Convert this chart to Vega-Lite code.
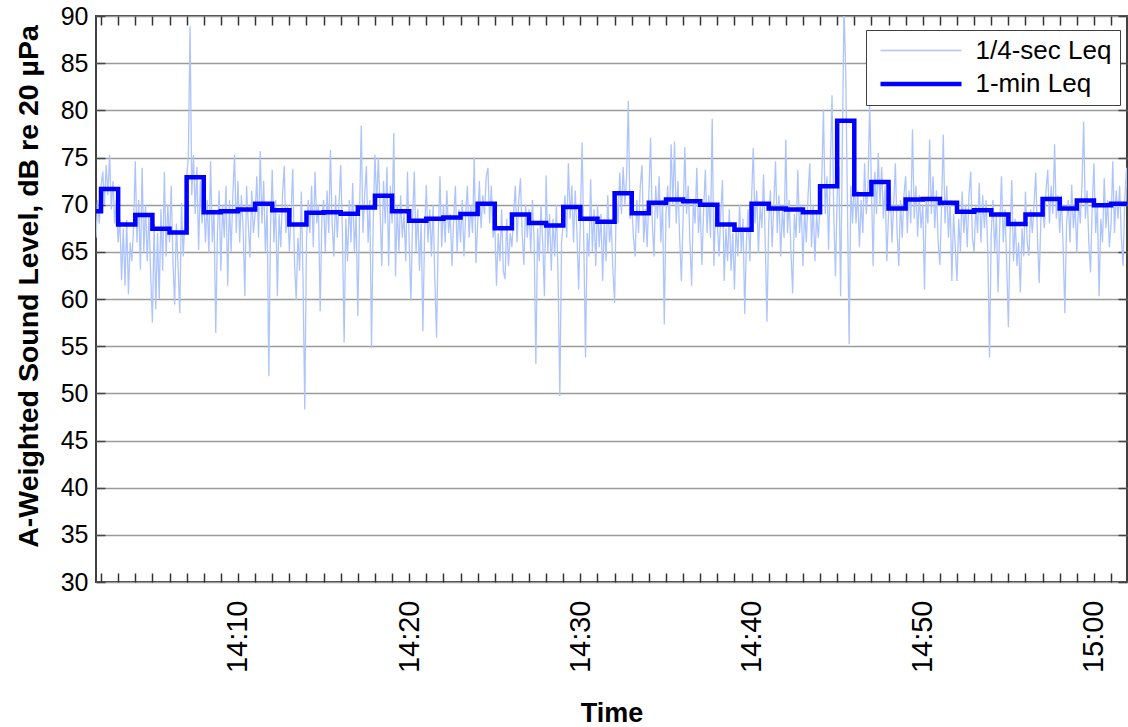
{
"$schema": "https://vega.github.io/schema/vega-lite/v6.json",
"width": 1031, "height": 566,
"autosize": {"type": "none"},
"padding": {"left": 96, "top": 16, "right": 1, "bottom": 145},
"background": "white",
"config": {
  "font": "Liberation Sans",
  "view": {"stroke": "#404040", "strokeWidth": 2},
  "axis": {"labelFont": "Liberation Sans", "titleFont": "Liberation Sans", "labelColor": "black", "titleColor": "black", "domain": false}
},
"datasets": {
"minute": [
{"min":1.706,"dB":69.3},{"min":2,"dB":71.65},{"min":3,"dB":67.9},{"min":4,"dB":68.9},{"min":5,"dB":67.45},{"min":6,"dB":67.05},{"min":7,"dB":72.9},{"min":8,"dB":69.2},{"min":9,"dB":69.3},{"min":10,"dB":69.5},
{"min":11,"dB":70.1},{"min":12,"dB":69.4},{"min":13,"dB":67.9},{"min":14,"dB":69.15},{"min":15,"dB":69.2},{"min":16,"dB":69.05},{"min":17,"dB":69.7},{"min":18,"dB":70.95},{"min":19,"dB":69.3},{"min":20,"dB":68.3},
{"min":21,"dB":68.5},{"min":22,"dB":68.65},{"min":23,"dB":69.0},{"min":24,"dB":70.1},{"min":25,"dB":67.5},{"min":26,"dB":68.95},{"min":27,"dB":68.05},{"min":28,"dB":67.8},{"min":29,"dB":69.75},{"min":30,"dB":68.5},
{"min":31,"dB":68.2},{"min":32,"dB":71.2},{"min":33,"dB":69.1},{"min":34,"dB":70.2},{"min":35,"dB":70.55},{"min":36,"dB":70.35},{"min":37,"dB":70.0},{"min":38,"dB":67.9},{"min":39,"dB":67.35},{"min":40,"dB":70.1},
{"min":41,"dB":69.6},{"min":42,"dB":69.5},{"min":43,"dB":69.2},{"min":44,"dB":71.95},{"min":45,"dB":78.9},{"min":46,"dB":71.1},{"min":47,"dB":72.4},{"min":48,"dB":69.6},{"min":49,"dB":70.55},{"min":50,"dB":70.6},
{"min":51,"dB":70.2},{"min":52,"dB":69.25},{"min":53,"dB":69.4},{"min":54,"dB":68.95},{"min":55,"dB":67.95},{"min":56,"dB":68.95},{"min":57,"dB":70.6},{"min":58,"dB":69.6},{"min":59,"dB":70.45},{"min":60,"dB":69.95},
{"min":61,"dB":70.1},{"min":61.93,"dB":70.1}
],
"quarter": [
{"min":1.71,"dB":66.5},{"min":1.8,"dB":70.5},{"min":1.9,"dB":68.0},
{"min":2.0,"dB":72.0},{"min":2.1,"dB":73.5},{"min":2.2,"dB":70.0},{"min":2.3,"dB":74.2},{"min":2.4,"dB":71.0},{"min":2.5,"dB":75.3},{"min":2.6,"dB":69.5},{"min":2.7,"dB":72.5},{"min":2.8,"dB":68.0},{"min":2.9,"dB":70.5},
{"min":3.0,"dB":66.0},{"min":3.1,"dB":68.5},{"min":3.2,"dB":62.0},{"min":3.3,"dB":67.5},{"min":3.4,"dB":61.4},{"min":3.5,"dB":68.4},{"min":3.6,"dB":60.5},{"min":3.7,"dB":66.0},{"min":3.8,"dB":64.0},{"min":3.9,"dB":67.5},
{"min":4.0,"dB":74.6},{"min":4.1,"dB":66.0},{"min":4.2,"dB":70.5},{"min":4.3,"dB":63.1},{"min":4.4,"dB":73.9},{"min":4.5,"dB":65.0},{"min":4.6,"dB":70.0},{"min":4.7,"dB":64.0},{"min":4.8,"dB":69.0},{"min":4.9,"dB":62.5},
{"min":5.0,"dB":57.5},{"min":5.1,"dB":68.0},{"min":5.2,"dB":58.9},{"min":5.3,"dB":67.0},{"min":5.4,"dB":60.0},{"min":5.5,"dB":69.5},{"min":5.6,"dB":63.0},{"min":5.7,"dB":73.5},{"min":5.8,"dB":64.5},{"min":5.9,"dB":70.0},
{"min":6.0,"dB":66.0},{"min":6.1,"dB":72.0},{"min":6.2,"dB":64.0},{"min":6.3,"dB":59.4},{"min":6.4,"dB":68.0},{"min":6.5,"dB":63.5},{"min":6.6,"dB":58.5},{"min":6.7,"dB":70.2},{"min":6.8,"dB":64.5},{"min":6.9,"dB":68.5},
{"min":7.0,"dB":73.0},{"min":7.1,"dB":75.0},{"min":7.2,"dB":88.9},{"min":7.3,"dB":71.0},{"min":7.4,"dB":75.3},{"min":7.5,"dB":69.0},{"min":7.6,"dB":74.0},{"min":7.7,"dB":65.2},{"min":7.8,"dB":72.5},{"min":7.9,"dB":68.0},
{"min":8.0,"dB":71.0},{"min":8.1,"dB":66.0},{"min":8.2,"dB":70.5},{"min":8.3,"dB":64.8},{"min":8.4,"dB":74.6},{"min":8.5,"dB":66.0},{"min":8.6,"dB":69.5},{"min":8.7,"dB":56.4},{"min":8.8,"dB":67.0},{"min":8.9,"dB":71.5},
{"min":9.0,"dB":63.0},{"min":9.1,"dB":70.0},{"min":9.2,"dB":66.5},{"min":9.3,"dB":72.0},{"min":9.4,"dB":61.4},{"min":9.5,"dB":70.5},{"min":9.6,"dB":65.0},{"min":9.7,"dB":71.0},{"min":9.8,"dB":75.3},{"min":9.9,"dB":67.0},
{"min":10.0,"dB":72.5},{"min":10.1,"dB":66.0},{"min":10.2,"dB":71.0},{"min":10.3,"dB":67.5},{"min":10.4,"dB":60.3},{"min":10.5,"dB":72.0},{"min":10.6,"dB":68.0},{"min":10.7,"dB":64.4},{"min":10.8,"dB":71.5},{"min":10.9,"dB":67.0},
{"min":11.0,"dB":69.0},{"min":11.1,"dB":73.0},{"min":11.2,"dB":66.5},{"min":11.3,"dB":75.7},{"min":11.4,"dB":68.0},{"min":11.5,"dB":72.5},{"min":11.6,"dB":65.0},{"min":11.7,"dB":70.0},{"min":11.8,"dB":51.8},{"min":11.9,"dB":67.5},
{"min":12.0,"dB":73.7},{"min":12.1,"dB":66.0},{"min":12.2,"dB":70.5},{"min":12.3,"dB":60.3},{"min":12.4,"dB":69.0},{"min":12.5,"dB":65.5},{"min":12.6,"dB":71.0},{"min":12.7,"dB":74.1},{"min":12.8,"dB":67.0},{"min":12.9,"dB":70.0},
{"min":13.0,"dB":65.0},{"min":13.1,"dB":69.0},{"min":13.2,"dB":73.8},{"min":13.3,"dB":64.0},{"min":13.4,"dB":59.9},{"min":13.5,"dB":66.5},{"min":13.6,"dB":63.0},{"min":13.7,"dB":71.4},{"min":13.8,"dB":62.0},{"min":13.9,"dB":48.3},
{"min":14.0,"dB":66.0},{"min":14.1,"dB":70.5},{"min":14.2,"dB":67.0},{"min":14.3,"dB":72.0},{"min":14.4,"dB":65.5},{"min":14.5,"dB":73.5},{"min":14.6,"dB":68.0},{"min":14.7,"dB":70.0},{"min":14.8,"dB":58.7},{"min":14.9,"dB":68.5},
{"min":15.0,"dB":70.5},{"min":15.1,"dB":65.0},{"min":15.2,"dB":71.5},{"min":15.3,"dB":67.0},{"min":15.4,"dB":75.8},{"min":15.5,"dB":68.0},{"min":15.6,"dB":64.5},{"min":15.7,"dB":71.0},{"min":15.8,"dB":66.5},{"min":15.9,"dB":70.0},
{"min":16.0,"dB":74.2},{"min":16.1,"dB":67.0},{"min":16.2,"dB":55.4},{"min":16.3,"dB":68.5},{"min":16.4,"dB":64.0},{"min":16.5,"dB":70.5},{"min":16.6,"dB":66.0},{"min":16.7,"dB":72.3},{"min":16.8,"dB":65.0},{"min":16.9,"dB":69.0},
{"min":17.0,"dB":58.2},{"min":17.1,"dB":69.0},{"min":17.2,"dB":78.4},{"min":17.3,"dB":67.0},{"min":17.4,"dB":71.0},{"min":17.5,"dB":74.1},{"min":17.6,"dB":66.0},{"min":17.7,"dB":70.5},{"min":17.8,"dB":54.8},{"min":17.9,"dB":68.0},
{"min":18.0,"dB":75.3},{"min":18.1,"dB":70.0},{"min":18.2,"dB":75.0},{"min":18.3,"dB":69.5},{"min":18.4,"dB":63.5},{"min":18.5,"dB":72.5},{"min":18.6,"dB":68.0},{"min":18.7,"dB":74.0},{"min":18.8,"dB":63.5},{"min":18.9,"dB":72.0},
{"min":19.0,"dB":68.0},{"min":19.1,"dB":77.6},{"min":19.2,"dB":62.4},{"min":19.3,"dB":70.0},{"min":19.4,"dB":65.0},{"min":19.5,"dB":71.0},{"min":19.6,"dB":66.5},{"min":19.7,"dB":69.0},{"min":19.8,"dB":64.0},{"min":19.9,"dB":73.5},
{"min":20.0,"dB":66.0},{"min":20.1,"dB":59.8},{"min":20.2,"dB":68.5},{"min":20.3,"dB":73.5},{"min":20.4,"dB":65.0},{"min":20.5,"dB":69.5},{"min":20.6,"dB":63.0},{"min":20.7,"dB":68.0},{"min":20.8,"dB":56.6},{"min":20.9,"dB":67.0},
{"min":21.0,"dB":72.1},{"min":21.1,"dB":66.0},{"min":21.2,"dB":69.5},{"min":21.3,"dB":64.5},{"min":21.4,"dB":70.0},{"min":21.5,"dB":62.0},{"min":21.6,"dB":55.9},{"min":21.7,"dB":67.0},{"min":21.8,"dB":73.0},{"min":21.9,"dB":65.5},
{"min":22.0,"dB":70.0},{"min":22.1,"dB":66.0},{"min":22.2,"dB":71.5},{"min":22.3,"dB":67.0},{"min":22.4,"dB":69.0},{"min":22.5,"dB":63.5},{"min":22.6,"dB":68.5},{"min":22.7,"dB":72.0},{"min":22.8,"dB":65.0},{"min":22.9,"dB":69.5},
{"min":23.0,"dB":66.0},{"min":23.1,"dB":70.5},{"min":23.2,"dB":64.5},{"min":23.3,"dB":69.0},{"min":23.4,"dB":72.0},{"min":23.5,"dB":66.5},{"min":23.6,"dB":70.0},{"min":23.7,"dB":67.0},{"min":23.8,"dB":75.0},{"min":23.9,"dB":63.8},
{"min":24.0,"dB":68.0},{"min":24.1,"dB":72.5},{"min":24.2,"dB":67.5},{"min":24.3,"dB":71.0},{"min":24.4,"dB":69.0},{"min":24.5,"dB":73.0},{"min":24.6,"dB":73.9},{"min":24.7,"dB":68.0},{"min":24.8,"dB":72.0},{"min":24.9,"dB":66.5},
{"min":25.0,"dB":68.0},{"min":25.1,"dB":61.4},{"min":25.2,"dB":67.0},{"min":25.3,"dB":64.0},{"min":25.4,"dB":69.5},{"min":25.5,"dB":63.0},{"min":25.6,"dB":62.1},{"min":25.7,"dB":68.5},{"min":25.8,"dB":63.5},{"min":25.9,"dB":67.0},
{"min":26.0,"dB":65.5},{"min":26.1,"dB":69.0},{"min":26.2,"dB":72.0},{"min":26.3,"dB":66.0},{"min":26.4,"dB":70.5},{"min":26.5,"dB":72.8},{"min":26.6,"dB":67.0},{"min":26.7,"dB":63.6},{"min":26.8,"dB":70.0},{"min":26.9,"dB":66.5},
{"min":27.0,"dB":69.5},{"min":27.1,"dB":65.0},{"min":27.2,"dB":70.5},{"min":27.3,"dB":66.0},{"min":27.4,"dB":53.1},{"min":27.5,"dB":67.5},{"min":27.6,"dB":64.0},{"min":27.7,"dB":70.0},{"min":27.8,"dB":66.0},{"min":27.9,"dB":60.3},
{"min":28.0,"dB":73.1},{"min":28.1,"dB":65.0},{"min":28.2,"dB":69.0},{"min":28.3,"dB":63.0},{"min":28.4,"dB":68.5},{"min":28.5,"dB":64.5},{"min":28.6,"dB":70.0},{"min":28.7,"dB":62.0},{"min":28.8,"dB":49.7},{"min":28.9,"dB":66.0},
{"min":29.0,"dB":68.0},{"min":29.1,"dB":71.0},{"min":29.2,"dB":66.5},{"min":29.3,"dB":74.4},{"min":29.4,"dB":68.5},{"min":29.5,"dB":72.0},{"min":29.6,"dB":66.0},{"min":29.7,"dB":71.5},{"min":29.8,"dB":67.0},{"min":29.9,"dB":61.0},
{"min":30.0,"dB":68.5},{"min":30.1,"dB":76.6},{"min":30.2,"dB":66.0},{"min":30.3,"dB":53.8},{"min":30.4,"dB":67.0},{"min":30.5,"dB":64.5},{"min":30.6,"dB":72.7},{"min":30.7,"dB":65.0},{"min":30.8,"dB":69.5},{"min":30.9,"dB":63.5},
{"min":31.0,"dB":70.0},{"min":31.1,"dB":65.5},{"min":31.2,"dB":69.0},{"min":31.3,"dB":61.9},{"min":31.4,"dB":68.5},{"min":31.5,"dB":64.0},{"min":31.6,"dB":71.0},{"min":31.7,"dB":66.0},{"min":31.8,"dB":68.0},{"min":31.9,"dB":63.0},
{"min":32.0,"dB":59.6},{"min":32.1,"dB":71.0},{"min":32.2,"dB":68.0},{"min":32.3,"dB":73.4},{"min":32.4,"dB":69.0},{"min":32.5,"dB":74.0},{"min":32.6,"dB":70.0},{"min":32.7,"dB":73.0},{"min":32.8,"dB":81.0},{"min":32.9,"dB":68.5},
{"min":33.0,"dB":70.0},{"min":33.1,"dB":66.5},{"min":33.2,"dB":64.5},{"min":33.3,"dB":70.5},{"min":33.4,"dB":67.0},{"min":33.5,"dB":72.0},{"min":33.6,"dB":74.2},{"min":33.7,"dB":66.0},{"min":33.8,"dB":69.5},{"min":33.9,"dB":65.5},
{"min":34.0,"dB":71.0},{"min":34.1,"dB":77.1},{"min":34.2,"dB":68.0},{"min":34.3,"dB":64.5},{"min":34.4,"dB":72.0},{"min":34.5,"dB":68.5},{"min":34.6,"dB":73.0},{"min":34.7,"dB":66.0},{"min":34.8,"dB":70.5},{"min":34.9,"dB":57.3},
{"min":35.0,"dB":69.0},{"min":35.1,"dB":72.0},{"min":35.2,"dB":67.5},{"min":35.3,"dB":76.4},{"min":35.4,"dB":70.0},{"min":35.5,"dB":76.7},{"min":35.6,"dB":68.0},{"min":35.7,"dB":72.5},{"min":35.8,"dB":66.5},{"min":35.9,"dB":61.9},
{"min":36.0,"dB":68.5},{"min":36.1,"dB":76.1},{"min":36.2,"dB":69.0},{"min":36.3,"dB":72.0},{"min":36.4,"dB":66.0},{"min":36.5,"dB":61.4},{"min":36.6,"dB":70.5},{"min":36.7,"dB":68.0},{"min":36.8,"dB":73.9},{"min":36.9,"dB":67.0},
{"min":37.0,"dB":70.0},{"min":37.1,"dB":63.6},{"min":37.2,"dB":69.5},{"min":37.3,"dB":73.7},{"min":37.4,"dB":67.0},{"min":37.5,"dB":71.0},{"min":37.6,"dB":66.5},{"min":37.7,"dB":79.1},{"min":37.8,"dB":63.5},{"min":37.9,"dB":70.0},
{"min":38.0,"dB":68.0},{"min":38.1,"dB":64.5},{"min":38.2,"dB":69.0},{"min":38.3,"dB":72.6},{"min":38.4,"dB":61.9},{"min":38.5,"dB":67.5},{"min":38.6,"dB":64.0},{"min":38.7,"dB":69.5},{"min":38.8,"dB":63.0},{"min":38.9,"dB":67.0},
{"min":39.0,"dB":61.0},{"min":39.1,"dB":68.0},{"min":39.2,"dB":64.5},{"min":39.3,"dB":70.0},{"min":39.4,"dB":65.0},{"min":39.5,"dB":68.5},{"min":39.6,"dB":58.4},{"min":39.7,"dB":66.0},{"min":39.8,"dB":69.5},{"min":39.9,"dB":64.0},
{"min":40.0,"dB":70.5},{"min":40.1,"dB":76.0},{"min":40.2,"dB":68.0},{"min":40.3,"dB":71.5},{"min":40.4,"dB":64.9},{"min":40.5,"dB":70.0},{"min":40.6,"dB":67.5},{"min":40.7,"dB":73.2},{"min":40.8,"dB":66.0},{"min":40.9,"dB":57.6},
{"min":41.0,"dB":68.0},{"min":41.1,"dB":71.5},{"min":41.2,"dB":65.5},{"min":41.3,"dB":70.0},{"min":41.4,"dB":74.6},{"min":41.5,"dB":67.0},{"min":41.6,"dB":71.0},{"min":41.7,"dB":64.5},{"min":41.8,"dB":69.5},{"min":41.9,"dB":66.5},
{"min":42.0,"dB":76.9},{"min":42.1,"dB":67.0},{"min":42.2,"dB":70.5},{"min":42.3,"dB":65.0},{"min":42.4,"dB":60.6},{"min":42.5,"dB":69.0},{"min":42.6,"dB":66.5},{"min":42.7,"dB":73.7},{"min":42.8,"dB":67.0},{"min":42.9,"dB":70.0},
{"min":43.0,"dB":63.5},{"min":43.1,"dB":69.5},{"min":43.2,"dB":66.0},{"min":43.3,"dB":71.0},{"min":43.4,"dB":74.4},{"min":43.5,"dB":65.5},{"min":43.6,"dB":70.0},{"min":43.7,"dB":64.0},{"min":43.8,"dB":69.0},{"min":43.9,"dB":66.5},
{"min":44.0,"dB":70.0},{"min":44.1,"dB":72.5},{"min":44.2,"dB":80.1},{"min":44.3,"dB":69.0},{"min":44.4,"dB":73.0},{"min":44.5,"dB":65.2},{"min":44.6,"dB":74.0},{"min":44.7,"dB":81.6},{"min":44.8,"dB":69.0},{"min":44.9,"dB":62.4},
{"min":45.0,"dB":71.0},{"min":45.1,"dB":74.0},{"min":45.2,"dB":60.3},{"min":45.3,"dB":76.0},{"min":45.4,"dB":91.0},{"min":45.5,"dB":84.0},{"min":45.6,"dB":70.0},{"min":45.7,"dB":55.2},{"min":45.8,"dB":72.0},{"min":45.9,"dB":68.0},
{"min":46.0,"dB":73.0},{"min":46.1,"dB":68.0},{"min":46.2,"dB":71.5},{"min":46.3,"dB":65.5},{"min":46.4,"dB":70.5},{"min":46.5,"dB":67.0},{"min":46.6,"dB":74.4},{"min":46.7,"dB":69.0},{"min":46.8,"dB":72.0},{"min":46.9,"dB":80.6},
{"min":47.0,"dB":72.0},{"min":47.1,"dB":63.5},{"min":47.2,"dB":73.5},{"min":47.3,"dB":69.0},{"min":47.4,"dB":75.5},{"min":47.5,"dB":70.0},{"min":47.6,"dB":74.0},{"min":47.7,"dB":68.5},{"min":47.8,"dB":72.0},{"min":47.9,"dB":64.0},
{"min":48.0,"dB":69.0},{"min":48.1,"dB":72.0},{"min":48.2,"dB":66.0},{"min":48.3,"dB":70.0},{"min":48.4,"dB":74.4},{"min":48.5,"dB":67.0},{"min":48.6,"dB":63.5},{"min":48.7,"dB":70.5},{"min":48.8,"dB":66.5},{"min":48.9,"dB":71.0},
{"min":49.0,"dB":73.0},{"min":49.1,"dB":67.0},{"min":49.2,"dB":71.5},{"min":49.3,"dB":68.0},{"min":49.4,"dB":78.0},{"min":49.5,"dB":68.5},{"min":49.6,"dB":72.0},{"min":49.7,"dB":66.6},{"min":49.8,"dB":71.0},{"min":49.9,"dB":67.5},
{"min":50.0,"dB":70.0},{"min":50.1,"dB":61.0},{"min":50.2,"dB":70.5},{"min":50.3,"dB":68.0},{"min":50.4,"dB":76.9},{"min":50.5,"dB":69.0},{"min":50.6,"dB":73.0},{"min":50.7,"dB":67.5},{"min":50.8,"dB":71.5},{"min":50.9,"dB":66.0},
{"min":51.0,"dB":63.6},{"min":51.1,"dB":70.0},{"min":51.2,"dB":77.4},{"min":51.3,"dB":68.0},{"min":51.4,"dB":72.0},{"min":51.5,"dB":66.5},{"min":51.6,"dB":70.5},{"min":51.7,"dB":61.9},{"min":51.8,"dB":69.0},{"min":51.9,"dB":65.5},
{"min":52.0,"dB":61.9},{"min":52.1,"dB":68.5},{"min":52.2,"dB":65.0},{"min":52.3,"dB":71.4},{"min":52.4,"dB":67.0},{"min":52.5,"dB":70.0},{"min":52.6,"dB":65.5},{"min":52.7,"dB":71.0},{"min":52.8,"dB":73.5},{"min":52.9,"dB":66.5},
{"min":53.0,"dB":65.0},{"min":53.1,"dB":70.0},{"min":53.2,"dB":67.0},{"min":53.3,"dB":72.3},{"min":53.4,"dB":66.0},{"min":53.5,"dB":71.0},{"min":53.6,"dB":67.5},{"min":53.7,"dB":70.5},{"min":53.8,"dB":65.0},{"min":53.9,"dB":53.8},
{"min":54.0,"dB":67.0},{"min":54.1,"dB":70.5},{"min":54.2,"dB":65.0},{"min":54.3,"dB":69.0},{"min":54.4,"dB":60.7},{"min":54.5,"dB":68.0},{"min":54.6,"dB":73.0},{"min":54.7,"dB":66.0},{"min":54.8,"dB":69.5},{"min":54.9,"dB":64.0},
{"min":55.0,"dB":57.0},{"min":55.1,"dB":67.0},{"min":55.2,"dB":72.6},{"min":55.3,"dB":64.0},{"min":55.4,"dB":68.5},{"min":55.5,"dB":63.5},{"min":55.6,"dB":66.0},{"min":55.7,"dB":60.7},{"min":55.8,"dB":67.5},{"min":55.9,"dB":64.5},
{"min":56.0,"dB":71.4},{"min":56.1,"dB":66.0},{"min":56.2,"dB":64.6},{"min":56.3,"dB":69.5},{"min":56.4,"dB":67.0},{"min":56.5,"dB":70.0},{"min":56.6,"dB":73.4},{"min":56.7,"dB":66.5},{"min":56.8,"dB":61.7},{"min":56.9,"dB":68.5},
{"min":57.0,"dB":70.0},{"min":57.1,"dB":67.5},{"min":57.2,"dB":71.5},{"min":57.3,"dB":73.7},{"min":57.4,"dB":68.0},{"min":57.5,"dB":72.0},{"min":57.6,"dB":69.0},{"min":57.7,"dB":76.4},{"min":57.8,"dB":68.5},{"min":57.9,"dB":71.0},
{"min":58.0,"dB":67.0},{"min":58.1,"dB":71.0},{"min":58.2,"dB":65.5},{"min":58.3,"dB":58.5},{"min":58.4,"dB":68.0},{"min":58.5,"dB":70.5},{"min":58.6,"dB":66.0},{"min":58.7,"dB":72.1},{"min":58.8,"dB":67.5},{"min":58.9,"dB":70.0},
{"min":59.0,"dB":64.9},{"min":59.1,"dB":70.5},{"min":59.2,"dB":68.0},{"min":59.3,"dB":72.0},{"min":59.4,"dB":78.8},{"min":59.5,"dB":68.5},{"min":59.6,"dB":71.5},{"min":59.7,"dB":66.0},{"min":59.8,"dB":62.8},{"min":59.9,"dB":70.0},
{"min":60.0,"dB":74.4},{"min":60.1,"dB":67.0},{"min":60.2,"dB":70.0},{"min":60.3,"dB":60.3},{"min":60.4,"dB":68.5},{"min":60.5,"dB":66.0},{"min":60.6,"dB":72.8},{"min":60.7,"dB":67.5},{"min":60.8,"dB":70.5},{"min":60.9,"dB":65.5},
{"min":61.0,"dB":68.0},{"min":61.1,"dB":74.6},{"min":61.2,"dB":67.0},{"min":61.3,"dB":71.5},{"min":61.4,"dB":68.5},{"min":61.5,"dB":72.0},{"min":61.6,"dB":66.5},{"min":61.7,"dB":63.5},{"min":61.8,"dB":70.5},{"min":61.9,"dB":73.9},
{"min":61.93,"dB":70.0}
]
},
"layer": [
{
  "data": {"name": "quarter"},
  "mark": {"type": "line", "strokeWidth": 1.3, "clip": true},
  "encoding": {
    "x": {"field": "min", "type": "quantitative",
      "scale": {"domain": [1.706, 61.93], "nice": false, "zero": false},
      "axis": {"orient": "bottom", "values": [2,3,4,5,6,7,8,9,10,11,12,13,14,15,16,17,18,19,20,21,22,23,24,25,26,27,28,29,30,31,32,33,34,35,36,37,38,39,40,41,42,43,44,45,46,47,48,49,50,51,52,53,54,55,56,57,58,59,60,61],
        "labelExpr": "datum.value % 10 === 0 ? (datum.value < 60 ? '14:' + datum.value : '15:0' + (datum.value - 60)) : ''",
        "labelAngle": 270, "labelFontSize": 29, "labelPadding": 27, "labelOverlap": false, "labelFlush": false, "labelBound": false,
        "tickSize": -9, "tickColor": "#333333", "tickWidth": 1.5, "grid": false,
        "title": "Time", "titleFontSize": 27, "titleFontWeight": "bold", "titleY": 139, "titleBaseline": "alphabetic"}},
    "y": {"field": "dB", "type": "quantitative",
      "scale": {"domain": [30, 90], "nice": false, "zero": false},
      "axis": {"orient": "left", "values": [30,35,40,45,50,55,60,65,70,75,80,85,90],
        "grid": true, "gridColor": "#9a9a9a", "gridWidth": 1.5,
        "tickSize": -9, "tickColor": "#444444", "tickWidth": 1.5,
        "labelFontSize": 25, "labelPadding": 17, "labelFlush": false, "labelOverlap": false,
        "title": "A-Weighted Sound Level, dB re 20 µPa", "titleFontSize": 28.5, "titleFontWeight": "bold",
        "titleAngle": 270, "titleX": -68, "titleY": 270, "titleAlign": "center", "titleBaseline": "middle"}},
    "color": {"datum": "1/4-sec Leq", "type": "nominal",
      "scale": {"domain": ["1/4-sec Leq", "1-min Leq"], "range": ["#aec4fd", "#0000ff"]},
      "legend": {"orient": "none", "legendX": 770, "legendY": 14, "title": null,
        "symbolType": "stroke", "symbolSize": 6561, "symbolStrokeWidth": 1.5, "symbolOffset": 5.5,
        "labelFontSize": 26, "labelColor": "black", "labelOffset": 13, "labelFont": "Liberation Sans",
        "padding": 8, "rowPadding": 6.5, "clipHeight": 25, "strokeColor": "#404040", "fillColor": "white",
        "encode": {"symbols": {"update": {"size": {"value": 6561}, "strokeWidth": {"signal": "(datum.value === '1-min Leq' ? 4.5 : 1.5)"}}}}}}
  }
},
{
  "data": {"name": "minute"},
  "mark": {"type": "line", "interpolate": "step-after", "strokeWidth": 4.5, "clip": true},
  "encoding": {
    "x": {"field": "min", "type": "quantitative",
      "axis": {"orient": "top", "values": [2,3,4,5,6,7,8,9,10,11,12,13,14,15,16,17,18,19,20,21,22,23,24,25,26,27,28,29,30,31,32,33,34,35,36,37,38,39,40,41,42,43,44,45,46,47,48,49,50,51,52,53,54,55,56,57,58,59,60,61],
        "labels": false, "tickSize": -9, "tickColor": "#333333", "tickWidth": 1.5, "grid": false, "title": null}},
    "y": {"field": "dB", "type": "quantitative",
      "axis": {"orient": "right", "values": [30,35,40,45,50,55,60,65,70,75,80,85,90],
        "labels": false, "tickSize": -9, "tickColor": "#444444", "tickWidth": 1.5, "grid": false, "title": null}},
    "color": {"datum": "1-min Leq", "type": "nominal"}
  }
}
],
"resolve": {"axis": {"x": "independent", "y": "independent"}}
}
